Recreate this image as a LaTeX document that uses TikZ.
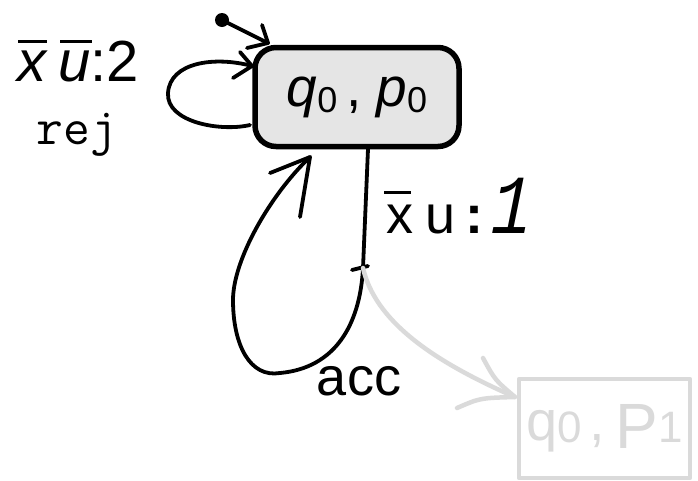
\documentclass[tikz,border=0pt]{standalone}
\usepackage{fontspec}
\setmainfont{Liberation Sans}
\newfontfamily\handone[FakeSlant=0.25]{Liberation Mono}
\definecolor{boxfill}{HTML}{E5E5E5}
\definecolor{ghost}{HTML}{DADADA}
\newcommand\myovl[3]{\setbox0\hbox{#1}\rlap{\kern#3\raisebox{\dimexpr\ht0+#2\relax}{\rule{\wd0}{3pt}}}\box0}
\tikzset{
  hand/.style={line width=3.8pt, line cap=round, line join=round},
  ghostline/.style={draw=ghost, line width=4.5pt, line cap=round, line join=round},
  statebox/.style={draw, line width=5.5pt, rounded corners=21pt, fill=boxfill,
    minimum width=204pt, minimum height=99pt, inner sep=0pt},
  ghostbox/.style={ghostline, minimum width=171pt, minimum height=99pt, inner sep=0pt},
}
\begin{document}
\begin{tikzpicture}[x=1pt,y=-1pt]
\useasboundingbox (0,0) rectangle (698,480);

% states
\node[statebox] (s0) at (357,97)
  {\fontsize{55}{55}\selectfont\itshape q\raisebox{-6pt}{\fontsize{36}{36}\selectfont\upshape 0}\kern9pt\upshape,\kern15pt\itshape p\raisebox{-6pt}{\fontsize{36}{36}\selectfont\upshape 0}};
\node[ghostbox] (s1) at (604.5,428.5)
  {\color{ghost}\fontsize{56}{56}\selectfont q\raisebox{-2pt}{\fontsize{44}{44}\selectfont 0}\kern8pt,\kern10pt\raisebox{-8pt}{\fontsize{64}{64}\selectfont P}\raisebox{-2pt}{\fontsize{44}{44}\selectfont 1}};

% initial arrow
\coordinate (initdot) at (222,20);
\coordinate (inittip) at (268,43);
\fill (initdot) circle (7);
\draw[hand] (initdot) -- (inittip);
\draw[hand] (262,25) -- (inittip) -- (247,48);

% self loop rej
\coordinate (loopend) at (252,66);
\coordinate (loopstart) at (250,125);
\draw[hand] (loopend) .. controls (215,56) and (170,62) .. (168,93)
  .. controls (166,122) and (220,132) .. (loopstart);
\draw[hand] (240,52) -- (loopend) -- (233,78);
\node[inner sep=0pt, anchor=base west, font=\fontsize{58}{58}\selectfont] (lab2) at (17,81)
  {\itshape\myovl{x}{7pt}{1pt}\kern12pt\myovl{u}{7pt}{2pt}\upshape:2};
\node[inner sep=0pt, anchor=base, font=\fontsize{52}{52}\selectfont\ttfamily] (labrej) at (77,144) {rej};

% transition down
\coordinate (out1) at (368,149);
\coordinate (split) at (363,268);
\draw[hand] (out1) -- (split);
\draw[hand] (352,270) -- (368,266);
\node[inner sep=0pt, anchor=base west, font=\fontsize{54}{54}\selectfont] (lab1) at (386,233)
  {\myovl{x}{10pt}{-2pt}\kern12pt u\kern10pt{\bfseries:}\kern4pt{\handone\fontsize{84}{84}\selectfont\scalebox{0.8}[1]{1}}};

% acc loop back
\coordinate (acctip) at (310,157);
\draw[hand] (split) .. controls (360,325) and (335,368) .. (280,373)
  .. controls (250,378) and (233,345) .. (233,300)
  .. controls (233,260) and (270,195) .. (acctip);
\draw[hand] (270,173) -- (acctip) -- (300,217);
\node[inner sep=0pt, anchor=base, font=\fontsize{54}{54}\selectfont] (labacc) at (359,395) {acc};

% ghost transition
\coordinate (ghosttip) at (515,397);
\draw[ghostline] (split) .. controls (375,320) and (430,360) .. (ghosttip);
\draw[ghostline] (483,358) .. controls (495,380) .. (ghosttip)
  .. controls (480,398) .. (457,408);
\end{tikzpicture}
\end{document}
